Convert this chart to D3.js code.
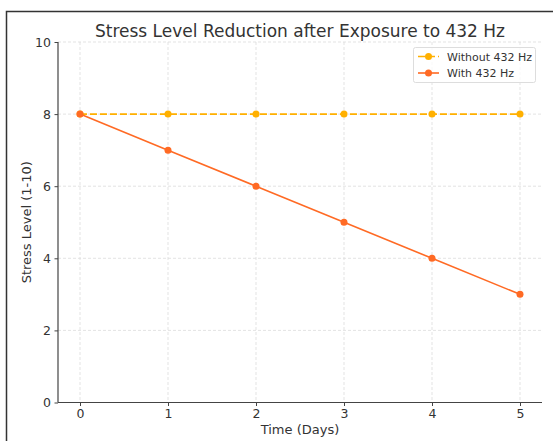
<!DOCTYPE html>
<html><head><meta charset="utf-8">
<script src="https://cdn.jsdelivr.net/npm/d3@7"></script>
<style>body{margin:0;background:#fff}svg{display:block;font-family:"DejaVu Sans",sans-serif}</style>
</head><body>
<svg id="c" width="553" height="441"></svg>
<script>
const days = [0, 1, 2, 3, 4, 5];
const withoutVals = [8, 8, 8, 8, 8, 8];
const withVals = [8, 7, 6, 5, 4, 3];
const yTicks = [0, 2, 4, 6, 8, 10];
const seriesNames = ["Without 432 Hz", "With 432 Hz"];

const svg = d3.select("#c");
const W = 553, H = 441;
const m = {left: 58, right: 542, top: 42, bottom: 402.5};
const x = d3.scaleLinear().domain([-0.25, 5.25]).range([m.left, m.right]);
const y = d3.scaleLinear().domain([0, 10]).range([m.bottom, m.top]);

// outer frame
svg.append("path").attr("d", `M6.5,${H} V11.5 H${W}`).attr("fill","none").attr("stroke","#333").attr("stroke-width",1.5);

// grid
svg.append("g").selectAll("line").data(days).join("line")
  .attr("x1", d=>x(d)).attr("x2", d=>x(d)).attr("y1", m.top).attr("y2", m.bottom)
  .attr("stroke","#dcdcdc").attr("stroke-width",0.8).attr("stroke-dasharray","3,2");
svg.append("g").selectAll("line").data(yTicks).join("line")
  .attr("y1", d=>y(d)).attr("y2", d=>y(d)).attr("x1", m.left).attr("x2", m.right)
  .attr("stroke","#dcdcdc").attr("stroke-width",0.8).attr("stroke-dasharray","3,2");

// axes
const xa = svg.append("g").attr("transform",`translate(0,${m.bottom})`)
  .call(d3.axisBottom(x).tickValues(days).tickSize(3.5).tickPadding(3.5).tickFormat(d3.format("d")));
const ya = svg.append("g").attr("transform",`translate(${m.left},0)`)
  .call(d3.axisLeft(y).tickValues(yTicks).tickSize(3.5).tickPadding(3.5).tickFormat(d3.format("d")));
[xa, ya].forEach(a=>{
  a.select(".domain").attr("stroke","#444").attr("stroke-width",1.2);
  a.selectAll(".tick line").attr("stroke","#444");
  a.selectAll(".tick text").attr("fill","#333").style("font-size","12.5px").style("font-family","DejaVu Sans");
});
xa.select(".domain").attr("d", `M${m.left},0H${m.right}`);
ya.select(".domain").attr("d", `M0,${m.bottom}V${m.top}`);

// labels
svg.append("text").attr("x", (m.left+m.right)/2).attr("y", 37).attr("text-anchor","middle")
  .attr("fill","#333").style("font-size","17px").text("Stress Level Reduction after Exposure to 432 Hz");
svg.append("text").attr("x", (m.left+m.right)/2).attr("y", 434).attr("text-anchor","middle")
  .attr("fill","#333").style("font-size","13px").text("Time (Days)");
svg.append("text").attr("transform",`translate(31,${(m.top+m.bottom)/2}) rotate(-90)`).attr("text-anchor","middle")
  .attr("fill","#333").style("font-size","13px").text("Stress Level (1-10)");

const colors = ["#ffb000", "#ff6a24"];
const line = d3.line().x((d,i)=>x(days[i])).y(d=>y(d));
[[withoutVals, colors[0], "7,3"], [withVals, colors[1], null]].forEach(([vals, col, dash])=>{
  svg.append("path").datum(vals).attr("d", line).attr("fill","none").attr("stroke",col)
    .attr("stroke-width",1.6).attr("stroke-dasharray", dash);
  svg.append("g").selectAll("circle").data(vals).join("circle")
    .attr("cx",(d,i)=>x(days[i])).attr("cy",d=>y(d)).attr("r",3.5).attr("fill",col);
});

// legend
const lg = svg.append("g");
lg.append("rect").attr("x",413.5).attr("y",47.5).attr("width",122).attr("height",35).attr("rx",2)
  .attr("fill","#fff").attr("fill-opacity",0.8).attr("stroke","#ddd");
seriesNames.forEach((n,i)=>{
  const yy = 56.5 + i*16.5;
  lg.append("line").attr("x1",418).attr("x2",439).attr("y1",yy).attr("y2",yy)
    .attr("stroke",colors[i]).attr("stroke-width",1.6).attr("stroke-dasharray", i===0?"7,3":null);
  lg.append("circle").attr("cx",428.5).attr("cy",yy).attr("r",3.5).attr("fill",colors[i]);
  lg.append("text").attr("x",447).attr("y",yy+4).attr("fill","#333").style("font-size","11px").text(n);
});
</script>
</body></html>
